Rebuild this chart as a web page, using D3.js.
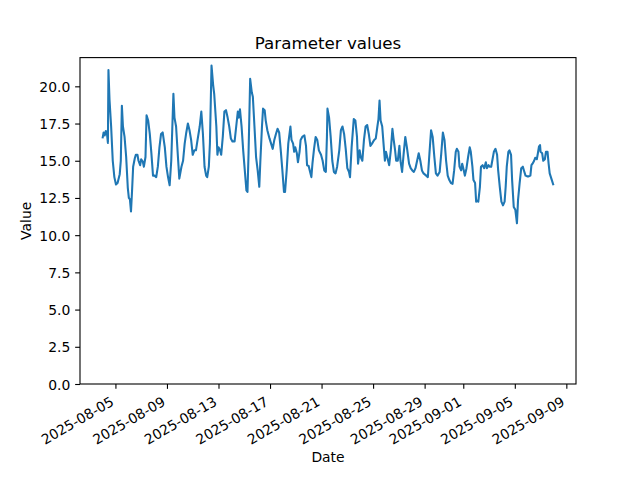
<!DOCTYPE html>
<html>
<head>
<meta charset="utf-8">
<script src="https://cdn.jsdelivr.net/npm/d3@7"></script>
<style>
  body { margin: 0; background: #fff; }
  svg { display: block; font-family: "DejaVu Sans", sans-serif; }
</style>
</head>
<body>
<svg id="chart" width="640" height="480"></svg>
<script>
// ---- data ----
const startDate = "2025-08-04T00:00:00Z";
// hours since start
const hours = [
  0,2,4,6,8,10,11,13,16,19,22,
  25,28,32,34,36,38,41,44,47,
  49,51,53,55,57,60,62,65,67,70,
  72,75,77,80,82,85,88,91,94,
  97,100,103,106,109,112,116,119,122,
  125,128,132,134,137,140,143,
  147,150,153,156,159,162,165,168,
  171,174,177,181,184,187,190,193,195,198,200,203,206,208,212,214,216,219,221,224,227,230,233,236,239,242,246,249,252,254,256,259,262,265,268,270,272,275,278,280,283,286,289,292,294,297,299,302,304,307,311,314,317,320,323,326,329,332,335,338,340,343,346,350,352,355,357,359,362,364,367,369,372,376,379,381,384,386,389,391,394,397,400,403,407,410,413,416,418,419,422,425,428,431,434,437,441,444,447,450,453,456,459,461,464,468,471,474,476,479,481,484,487,490,493,496,499,502,506,509,512,514,516,518,521,524,526,528,532,534,537,540,542,545,547,550,553,555,558,561,564,567,571,574,577,580,583,586,589,592,595,598,603,606,609,612,615,618,621,624,628,631,634,637,640,643,646,649,652,655,658,660,663,665,668,670,673,675,678,681,684,686,689,691,694,696,698,700,703,705,708,711,714,716,719,721,724,726,729,732,735,737,740,743,746,749,751,753,756,758,761,763,766,769,772,774,777,780,783,785,788,791,794,797,799,801,804,806,809,811,813,815,816,819,821,824,826,829,831,833,837,840
];
const values = [
  16.5,16.9,16.7,17.0,16.9,16.2,21.1,19.1,17.3,15.0,13.9,
  13.4,13.5,14.1,15.0,18.7,17.3,16.6,15.25,13.2,
  12.5,12.4,11.6,13.0,14.6,15.15,15.4,15.4,15.0,14.7,
  15.1,14.95,14.6,15.25,18.05,17.7,16.8,15.5,14.0,
  14.0,13.9,14.6,15.9,16.8,16.9,15.9,14.6,13.9,
  13.35,15.0,19.5,17.9,17.3,15.5,13.8,
  14.6,15.0,16.15,16.9,17.5,17.05,16.4,15.4,
  15.7,15.7,16.4,17.3,18.3,16.8,14.6,14.0,13.9,14.6,16.15,21.4,20.1,19.5,17.3,15.4,15.9,15.7,15.4,16.6,18.3,18.4,17.9,17.3,16.5,16.3,16.3,17.3,18.3,17.9,18.45,17.3,15.7,14.35,13.0,12.9,15.5,20.5,19.6,19.3,17.3,15.25,14.35,13.25,15.0,17.3,18.5,18.4,17.7,17.05,16.5,16.15,15.8,16.4,16.8,17.15,16.9,15.7,14.35,12.9,12.9,14.35,16.15,17.3,16.4,16.15,15.6,15.9,15.5,14.9,15.6,16.4,16.6,16.7,16.0,14.7,14.65,14.35,13.9,14.8,15.8,16.6,16.4,15.7,15.4,15.0,14.35,14.25,16.6,18.5,17.9,16.6,15.0,14.25,14.15,14.6,15.7,17.05,17.3,16.8,15.8,14.5,14.25,13.9,15.9,17.8,17.7,16.6,14.8,15.7,15.25,15.0,16.4,17.3,17.4,16.8,16.0,16.15,16.4,16.5,17.3,17.8,19.05,17.7,17.3,15.9,15.0,15.6,15.0,14.7,15.7,17.15,16.5,15.7,15.0,15.0,16.0,15.0,14.25,15.5,16.6,15.9,14.8,14.5,14.35,14.25,14.5,15.0,15.5,15.0,14.35,14.15,14.0,13.9,15.5,17.05,16.6,15.3,14.15,14.0,14.25,15.5,16.9,16.4,15.0,14.0,13.7,13.5,13.45,14.35,15.6,15.8,15.6,14.6,14.35,14.8,14.35,14.0,14.5,15.25,15.9,15.6,14.6,13.7,13.5,12.25,12.3,12.25,13.25,14.6,14.7,14.5,14.9,14.5,14.7,14.6,14.6,15.0,15.6,15.8,15.4,14.35,13.25,12.25,12.0,12.25,13.25,14.6,15.6,15.7,15.4,13.7,11.9,11.7,10.8,12.35,13.5,14.5,14.6,14.35,14.0,13.95,13.95,14.0,14.7,14.8,15.0,15.2,15.1,15.5,15.95,16.05,15.6,15.5,15.0,15.1,15.6,15.6,14.8,14.15,13.7,13.35
];
const xTickLabels = ["2025-08-05","2025-08-09","2025-08-13","2025-08-17","2025-08-21","2025-08-25","2025-08-29","2025-09-01","2025-09-05","2025-09-09"];
const yTickValues = [0, 2.5, 5, 7.5, 10, 12.5, 15, 17.5, 20];
const titleText = "Parameter values";
const xLabelText = "Date";
const yLabelText = "Value";

if (hours.length !== values.length) console.error("length mismatch", hours.length, values.length);

// ---- layout ----
const W = 640, H = 480;
const pL = 80, pR = 576, pT = 57.6, pB = 384;
const color = "#1f77b4";

const t0 = new Date(startDate).getTime();
const data = hours.map((h, i) => ({ date: new Date(t0 + h * 3600e3), value: values[i] }));

const xExt = d3.extent(data, d => d.date.getTime());
const xPad = (xExt[1] - xExt[0]) * 0.05;
const x = d3.scaleUtc().domain([new Date(xExt[0] - xPad), new Date(xExt[1] + xPad)]).range([pL, pR]);

const yMin = d3.min(values), yMax = d3.max(values);
const y = d3.scaleLinear().domain([0, yMax + 0.05 * (yMax - yMin)]).range([pB, pT]);

const svg = d3.select("#chart");
svg.append("rect").attr("width", W).attr("height", H).attr("fill", "#fff");

svg.append("clipPath").attr("id", "clip").append("rect")
  .attr("x", pL).attr("y", pT).attr("width", pR - pL).attr("height", pB - pT);

svg.append("path")
  .datum(data)
  .attr("clip-path", "url(#clip)")
  .attr("fill", "none")
  .attr("stroke", color)
  .attr("stroke-width", 2.08)
  .attr("stroke-linejoin", "round")
  .attr("stroke-linecap", "butt")
  .attr("d", d3.line().x(d => x(d.date)).y(d => y(d.value)));

// axes
const tickDates = xTickLabels.map(s => new Date(s + "T00:00:00Z"));
const fmt = d3.utcFormat("%Y-%m-%d");
const xAxis = d3.axisBottom(x).tickValues(tickDates).tickFormat(fmt).tickSizeInner(4.86).tickSizeOuter(0).tickPadding(4.86);
const gx = svg.append("g").attr("transform", `translate(0,${pB})`).call(xAxis);
gx.select(".domain").remove();
gx.selectAll(".tick line").attr("stroke", "#000").attr("stroke-width", 1.1);
gx.selectAll(".tick text")
  .attr("fill", "#000")
  .style("font-size", "13.9px")
  .style("font-family", "DejaVu Sans")
  .attr("text-anchor", "end")
  .attr("dominant-baseline", "central")
  .attr("y", 0).attr("dy", null)
  .attr("transform", "translate(-3.6,16.2) rotate(-30)");

const yAxis = d3.axisLeft(y).tickValues(yTickValues).tickFormat(d3.format(".1f")).tickSizeInner(4.86).tickSizeOuter(0).tickPadding(4.86);
const gy = svg.append("g").attr("transform", `translate(${pL},0)`).call(yAxis);
gy.select(".domain").remove();
gy.selectAll(".tick line").attr("stroke", "#000").attr("stroke-width", 1.1);
gy.selectAll(".tick text")
  .attr("fill", "#000")
  .style("font-size", "13.9px")
  .style("font-family", "DejaVu Sans")
  .attr("dy", null)
  .attr("dominant-baseline", "central");

// spines
svg.append("rect")
  .attr("x", pL).attr("y", pT).attr("width", pR - pL).attr("height", pB - pT)
  .attr("fill", "none").attr("stroke", "#000").attr("stroke-width", 1.1);

// title and labels
svg.append("text").attr("x", (pL + pR) / 2).attr("y", pT - 8.3)
  .attr("text-anchor", "middle").style("font-size", "16.7px").text(titleText);
svg.append("text").attr("x", (pL + pR) / 2).attr("y", 457)
  .attr("text-anchor", "middle").attr("dominant-baseline", "central").style("font-size", "13.9px").text(xLabelText);
svg.append("text").attr("transform", `translate(26,${(pT + pB) / 2}) rotate(-90)`)
  .attr("text-anchor", "middle").attr("dominant-baseline", "central").style("font-size", "13.9px").text(yLabelText);
</script>
</body>
</html>
